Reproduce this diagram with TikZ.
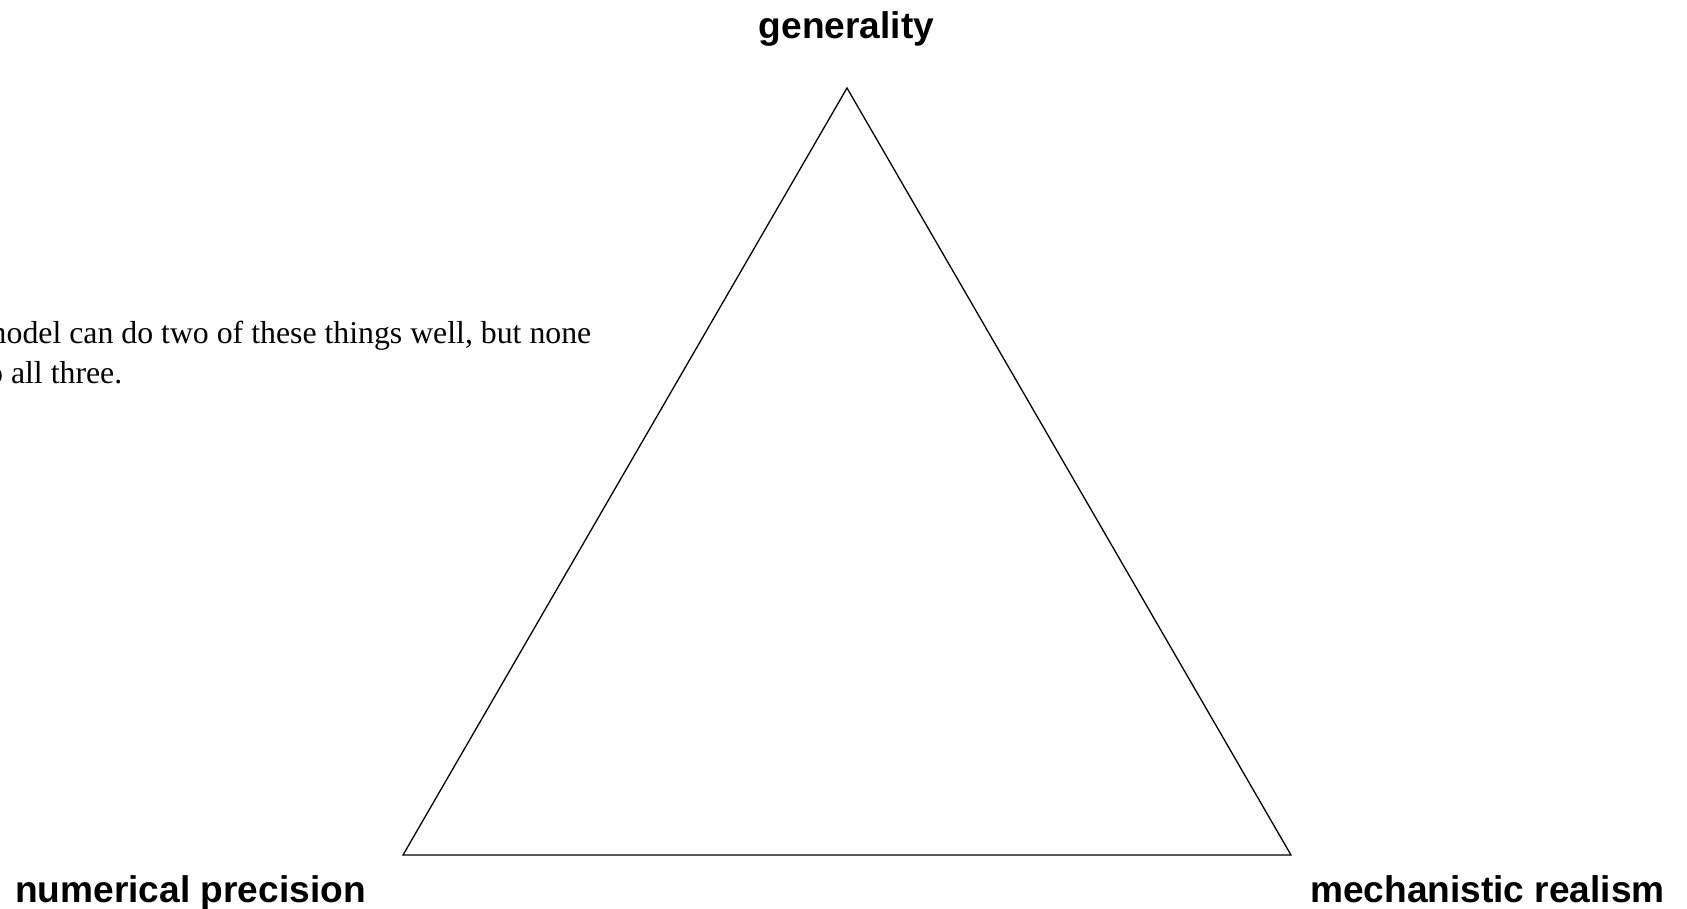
\documentclass[tikz,border=0pt]{standalone}
\usepackage{fontspec}
\setmainfont{Liberation Serif}
\setsansfont{Liberation Sans}
\begin{document}
\begin{tikzpicture}[x=1pt,y=-1pt,
  corner/.style={font=\sffamily\bfseries\fontsize{37.1}{40}\selectfont, inner sep=0pt, anchor=base},
  note/.style={font=\rmfamily\fontsize{31.8}{40}\selectfont, inner sep=0pt, align=left, anchor=base west},
  edge/.style={line width=1.3pt, line join=miter}]
\useasboundingbox (0,0) rectangle (1687,908);
\clip (0,0) rectangle (1687,908);
\coordinate (top) at (847,88);
\coordinate (bl) at (403,855);
\coordinate (br) at (1291,855);
\draw[edge] (top) -- (bl) -- (br) -- cycle;
\node[corner] (gen) at (846.5,38) {generality};
\node[corner, anchor=base west] (num) at (15,902) {numerical precision};
\node[corner, anchor=base east] (mech) at (1665,902) {mechanistic realism};
\node[note] (txt) at (-81,383) {Any model can do two of these things well, but none\\can do all three.};
\end{tikzpicture}
\end{document}
